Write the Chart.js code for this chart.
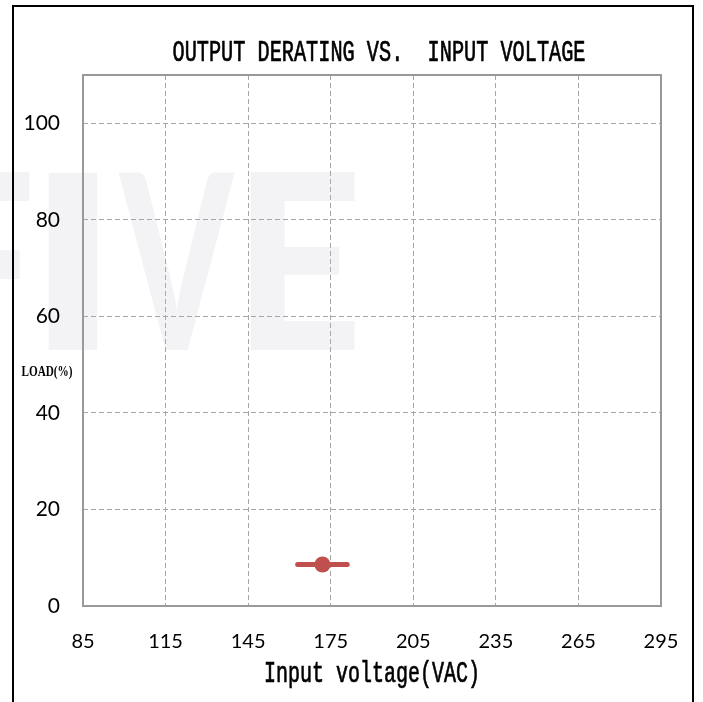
<!DOCTYPE html>
<html>
<head>
<meta charset="utf-8">
<script src="https://cdn.jsdelivr.net/npm/chart.js@4.4.1/dist/chart.umd.min.js"></script>
<style>
html, body { margin: 0; padding: 0; background: #fff; }
#wrap { position: relative; width: 703px; height: 702px; overflow: hidden; }
#frame { position: absolute; left: 12px; top: 5px; width: 682px; height: 760px; border: 2px solid #000; box-sizing: border-box; z-index: 2; pointer-events: none; }
canvas { position: absolute; left: 0; top: 0; }
</style>
</head>
<body>
<div id="wrap">
  <canvas id="chart" width="703" height="702"></canvas>
  <div id="frame"></div>
</div>
<script>
// Chart data
const xTicks = [85, 115, 145, 175, 205, 235, 265, 295];
const yTicks = [0, 20, 40, 60, 80, 100];
const inputVoltage = [163, 172, 181];
const loadPct = [8.6, 8.6, 8.6];
const markerRadius = [0, 8, 0];

const chartTitle = 'OUTPUT DERATING VS.  INPUT VOLTAGE';
const xTitle = 'Input voltage(VAC)';
const yTitle = 'LOAD(%)';

const colors = {
    line: '#c0504d',
    grid: '#a6a6a6',
    frame: '#999999',
    text: '#000000',
    watermark: '#f3f3f5'
};

Chart.defaults.font.family = "Lato, 'Noto Sans', sans-serif";
Chart.defaults.color = colors.text;

// draw text squeezed / stretched to look like the narrow original font
function drawText(ctx, text, cx, cy, font, scaleY, maxW, stroke) {
    ctx.save();
    ctx.font = font;
    ctx.fillStyle = colors.text;
    ctx.strokeStyle = colors.text;
    ctx.textAlign = 'center';
    ctx.textBaseline = 'middle';
    ctx.translate(cx, cy);
    ctx.scale(1, scaleY);
    ctx.fillText(text, 0, 0, maxW);
    if (stroke) {
        ctx.lineWidth = stroke;
        ctx.strokeText(text, 0, 0, maxW);
    }
    ctx.restore();
}

// watermark letter stretched so its ink fills a given box width
function fitLetter(ctx, ch, left, width, baseline) {
    const m = ctx.measureText(ch);
    const inkL = -m.actualBoundingBoxLeft;
    const inkW = m.actualBoundingBoxRight + m.actualBoundingBoxLeft;
    const sx = width / inkW;
    ctx.save();
    ctx.translate(left - inkL * sx, baseline);
    ctx.scale(sx, 1);
    ctx.fillText(ch, 0, 0);
    ctx.restore();
}

const decorPlugin = {
    id: 'decor',
    beforeDraw(chart) {
        const ctx = chart.ctx;
        ctx.save();
        ctx.font = "900 244px Lato";
        ctx.fillStyle = colors.watermark;
        ctx.textBaseline = 'alphabetic';
        fitLetter(ctx, 'F', -60, 90, 350);
        fitLetter(ctx, 'I', 48, 50, 350);
        fitLetter(ctx, 'V', 118, 117, 350);
        fitLetter(ctx, 'E', 250, 105, 350);
        ctx.restore();
    },
    beforeDatasetsDraw(chart) {
        const { ctx, chartArea: a } = chart;
        ctx.save();
        ctx.strokeStyle = colors.frame;
        ctx.lineWidth = 2;
        ctx.strokeRect(a.left, a.top, a.right - a.left, a.bottom - a.top);
        ctx.restore();
    },
    afterDraw(chart) {
        const ctx = chart.ctx;
        drawText(ctx, chartTitle, 379, 53, "20.5px 'Liberation Mono'", 1.45, 413, 0.5);
        drawText(ctx, xTitle, 372, 674, "20px 'Liberation Mono'", 1.45, 217, 0.5);
        drawText(ctx, yTitle, 47, 372, "bold 15px 'Liberation Serif'", 1.0, 51);
    }
};

new Chart(document.getElementById('chart'), {
    type: 'line',
    data: {
        datasets: [{
            data: inputVoltage.map((v, i) => ({ x: v, y: loadPct[i] })),
            borderColor: colors.line,
            backgroundColor: colors.line,
            borderWidth: 5,
            borderCapStyle: 'round',
            pointRadius: markerRadius,
            pointHoverRadius: markerRadius,
            pointBorderWidth: 0
        }]
    },
    options: {
        responsive: false,
        animation: false,
        layout: { padding: { top: 75, right: 42, bottom: 0, left: 0 } },
        plugins: {
            legend: { display: false },
            title: { display: false },
            tooltip: { enabled: false }
        },
        scales: {
            x: {
                type: 'linear',
                min: 85,
                max: 295,
                afterBuildTicks: s => { s.ticks = xTicks.map(v => ({ value: v })); },
                afterFit: s => { s.height = 96; },
                grid: { color: colors.grid, drawTicks: false },
                border: { display: false, dash: [5, 3] },
                ticks: { padding: 24, font: { size: 20 }, maxRotation: 0, autoSkip: false }
            },
            y: {
                min: 0,
                max: 110,
                afterBuildTicks: s => { s.ticks = yTicks.map(v => ({ value: v })); },
                afterFit: s => { s.width = 83; },
                grid: { color: colors.grid, drawTicks: false },
                border: { display: false, dash: [5, 3] },
                ticks: { padding: 23, font: { size: 21 } }
            }
        }
    },
    plugins: [decorPlugin]
});
</script>
</body>
</html>
